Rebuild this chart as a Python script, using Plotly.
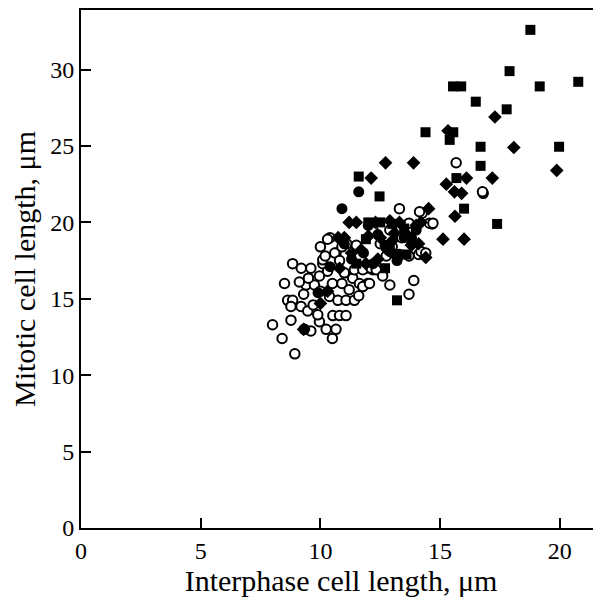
import plotly.graph_objects as go

# Open circles
open_x = [13.3, 14.67, 14.25, 10.4, 8.5, 13.7, 8.0, 8.4, 8.93, 10.52, 10.8, 11.07, 10.5, 10.65, 10.24,
          9.6, 9.33, 9.96, 8.77, 8.63, 8.84, 8.77, 9.19, 9.47, 9.4, 9.75, 9.96, 9.12, 9.89, 10.1, 10.65,
          10.38, 10.73, 11.07, 11.42, 10.5, 10.9, 11.35, 11.0, 11.63, 11.98, 12.19, 11.9, 12.33, 12.9,
          12.75, 13.3, 13.7, 14.1, 9.5, 8.84, 9.2, 11.77, 12.05, 10.6, 10.8, 11.42, 11.77, 12.12, 12.33,
          14.2, 14.4, 14.56, 14.14, 13.7, 12.19, 12.9, 10.3, 10.1, 16.8, 14.7, 15.67, 16.77, 10.0, 9.7,
          11.2, 11.6, 12.5, 13.0, 13.4, 11.1, 10.3, 10.0, 9.3, 12.6, 13.9, 10.2, 9.6, 10.9, 11.5]
open_y = [20.9, 19.9, 20.6, 19.0, 16.0, 15.3, 13.3, 12.4, 11.4, 13.9, 13.9, 13.9, 12.4, 13.0, 13.0,
          12.9, 13.0, 13.5, 13.6, 14.9, 14.9, 14.5, 14.5, 14.2, 15.9, 15.9, 16.5, 16.1, 13.95, 17.3, 18.0,
          15.15, 14.9, 14.9, 14.9, 16.0, 16.0, 16.35, 16.7, 16.0, 16.0, 16.9, 17.0, 17.1, 15.9,
          17.8, 17.9, 17.8, 17.9, 16.35, 17.3, 17.0, 15.8, 16.0, 18.0, 17.5, 16.9, 16.9, 17.0, 16.9,
          18.1, 18.0, 19.95, 20.7, 19.95, 19.5, 19.5, 18.9, 17.55, 21.9, 19.95, 23.9, 22.0, 15.5, 14.6,
          15.6, 15.2, 18.6, 18.4, 19.0, 18.6, 16.8, 18.4, 15.3, 16.5, 16.2, 17.8, 17.0, 18.4, 18.5]

# Filled circles
fc_x = [11.6, 10.9, 12.0, 13.5, 14.0, 11.8, 12.7, 10.4, 9.9, 13.2, 11.3, 12.4, 13.0, 12.2, 13.8, 11.0]
fc_y = [22.0, 20.9, 19.8, 19.0, 19.5, 18.0, 18.5, 17.1, 15.4, 17.5, 17.6, 19.2, 18.0, 17.3, 19.0, 18.6]

# Filled squares
sq_x = [18.77, 17.9, 20.77, 19.16, 15.54, 15.88, 16.49, 17.78, 14.39, 15.55, 15.4, 16.69, 19.97, 16.69,
        15.68, 16.0, 17.38, 12.47, 11.6, 13.2, 12.0, 12.5, 13.0, 13.5, 12.7, 12.9, 11.5, 13.8, 11.9, 13.6]
sq_y = [32.6, 29.9, 29.2, 28.9, 28.9, 28.9, 27.9, 27.4, 25.9, 25.9, 25.4, 24.95, 24.95, 23.7,
        22.9, 20.9, 19.9, 21.7, 23.0, 14.9, 20.0, 20.0, 19.9, 19.6, 17.0, 18.2, 17.3, 18.8, 18.9, 17.9]

# Filled diamonds
dm_x = [17.29, 18.08, 12.72, 13.89, 19.87, 15.33, 16.1, 17.18, 15.26, 15.6, 15.9, 14.52, 15.62, 15.12,
        16.0, 12.12, 10.74, 11.5, 12.3, 13.3, 14.0, 11.0, 12.5, 13.0, 13.8, 11.3, 12.8, 13.3, 14.4,
        10.8, 10.3, 9.3, 10.0, 11.9, 13.6, 11.2, 12.9, 14.2, 12.0, 13.1, 11.7, 12.4, 14.1]
dm_y = [26.9, 24.9, 23.9, 23.9, 23.4, 26.0, 22.9, 22.9, 22.5, 22.0, 21.9, 20.9, 20.4, 18.9,
        18.9, 22.9, 19.0, 20.0, 20.0, 20.0, 19.8, 19.0, 19.0, 18.8, 18.5, 18.0, 18.2, 17.8, 17.7,
        17.0, 15.5, 13.0, 14.7, 17.3, 19.2, 20.0, 20.1, 20.0, 19.1, 19.3, 18.2, 17.6, 18.6]

fig = go.Figure()
fig.add_trace(go.Scatter(x=open_x, y=open_y, mode="markers",
                         marker=dict(symbol="circle", size=9.5, color="white",
                                     line=dict(color="black", width=2))))
fig.add_trace(go.Scatter(x=fc_x, y=fc_y, mode="markers",
                         marker=dict(symbol="circle", size=11, color="black",
                                     line=dict(color="black", width=0))))
fig.add_trace(go.Scatter(x=sq_x, y=sq_y, mode="markers",
                         marker=dict(symbol="square", size=10, color="black",
                                     line=dict(color="black", width=0))))
fig.add_trace(go.Scatter(x=dm_x, y=dm_y, mode="markers",
                         marker=dict(symbol="diamond", size=10.5, color="black",
                                     line=dict(color="black", width=0))))

font_family = "Liberation Serif, Times New Roman, serif"
fig.update_layout(
    width=593, height=590,
    margin=dict(l=73, r=0, t=2, b=70),
    plot_bgcolor="white", paper_bgcolor="white",
    showlegend=False,
    font=dict(family=font_family, color="black", size=24),
    xaxis=dict(range=[0, 21.72], tickvals=[0, 5, 10, 15, 20], ticks="inside", ticklen=10,
               tickwidth=2, tickcolor="black", showline=True, linecolor="black", linewidth=2,
               mirror=True, showgrid=False, zeroline=False,
               tickfont=dict(size=24, family=font_family),
               title=dict(text="Interphase cell length, μm", font=dict(size=30, family=font_family),
                          standoff=2)),
    yaxis=dict(range=[0, 33.9], tickvals=[0, 5, 10, 15, 20, 25, 30], ticks="inside", ticklen=10,
               tickwidth=2, tickcolor="black", showline=True, linecolor="black", linewidth=2,
               mirror=False, showgrid=False, zeroline=False,
               tickfont=dict(size=24, family=font_family),
               title=dict(text="Mitotic cell length, μm", font=dict(size=30, family=font_family),
                          standoff=6)),
)

fig.write_html("out.html")
